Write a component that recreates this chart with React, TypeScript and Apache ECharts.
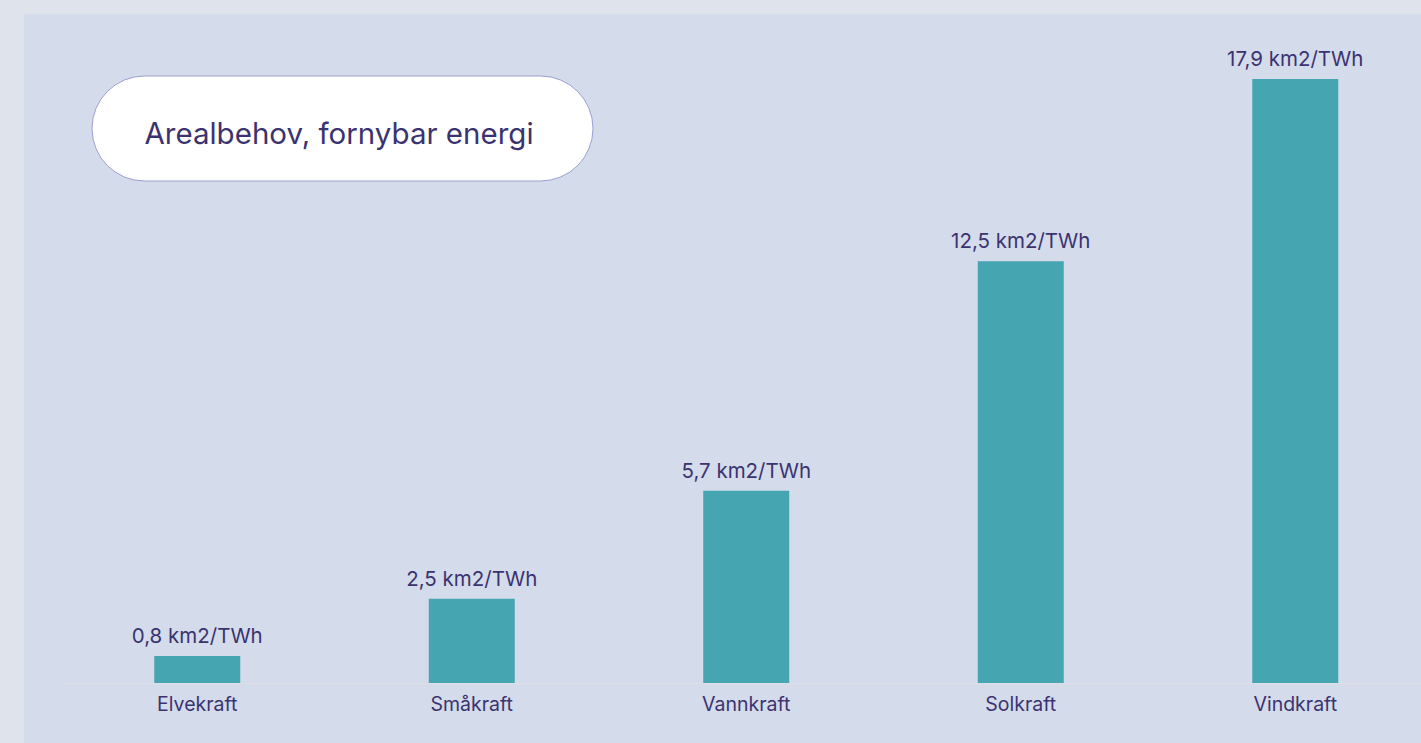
import React, { useEffect, useRef } from "react";
import * as echarts from "echarts";

// Area requirement per TWh for renewable energy sources
const categories = ["Elvekraft", "Småkraft", "Vannkraft", "Solkraft", "Vindkraft"];
const areaPerTWh = [0.8, 2.5, 5.7, 12.5, 17.9];
const unit = "km2/TWh";
const title = "Arealbehov, fornybar energi";

const TEXT = "#3b3370";
const BAR = "#45a6b1";
const FONT = "Inter, 'Noto Sans', sans-serif";

const formatNo = (v: number) => v.toFixed(1).replace(".", ",");

export default function App() {
  const ref = useRef<HTMLDivElement>(null);

  useEffect(() => {
    if (!ref.current) return;
    const chart = echarts.init(ref.current, undefined, { renderer: "svg" });
    chart.setOption({
      animation: false,
      backgroundColor: "transparent",
      textStyle: { fontFamily: FONT },
      grid: { left: 36, width: 1372.5, top: 61.5, bottom: 60, containLabel: false },
      xAxis: {
        type: "category",
        data: categories,
        axisTick: { show: false },
        axisLine: { show: true, lineStyle: { color: "#dcdfe5", width: 1 } },
        axisLabel: {
          color: TEXT,
          fontSize: 19.5,
          fontFamily: FONT,
          margin: 11,
        },
      },
      yAxis: {
        type: "value",
        min: 0,
        max: 18,
        show: false,
        splitLine: { show: false },
      },
      series: [
        {
          type: "bar",
          data: areaPerTWh,
          barWidth: 86,
          itemStyle: { color: BAR },
          label: {
            show: true,
            position: "top",
            distance: 10,
            color: TEXT,
            fontSize: 20.5,
            fontFamily: FONT,
            formatter: (p: any) => `${formatNo(p.value)} ${unit}`,
          },
        },
      ],
      graphic: [
        {
          type: "rect",
          shape: { x: 68, y: 62, width: 501, height: 105, r: 52.5 },
          style: { fill: "#ffffff", stroke: "#9c9ed2", lineWidth: 1 },
          z: 10,
        },
        {
          type: "text",
          x: 315,
          y: 119,
          z: 11,
          style: {
            text: title,
            fill: TEXT,
            font: `29.5px ${FONT}`,
            align: "center",
            verticalAlign: "middle",
          },
        },
      ],
    });
    return () => chart.dispose();
  }, []);

  return (
    <div
      style={{
        position: "fixed",
        left: 0,
        top: 0,
        width: 1421,
        height: 743,
        overflow: "hidden",
        background: "#dee3ec",
      }}
    >
      <div
        style={{
          position: "absolute",
          left: 24,
          top: 14,
          width: 1430,
          height: 729,
          background: "#d4dbea",
        }}
      >
        <div ref={ref} style={{ width: 1430, height: 729 }} />
      </div>
    </div>
  );
}
